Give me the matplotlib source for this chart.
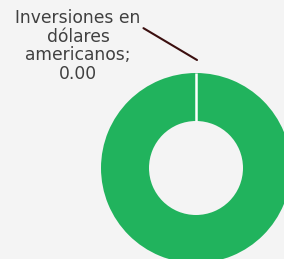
import numpy as np
import matplotlib.pyplot as plt

# data
labels = ['Inversiones en dólares americanos', 'Otros']
values = [0.00, 100.0]
colors = ['#21b35d', '#21b35d']

W, H = 284, 259
fig = plt.figure(figsize=(W / 100, H / 100), dpi=100)
fig.patch.set_facecolor('#f4f4f4')
ax = fig.add_axes([0, 0, 1, 1])
ax.set_facecolor('#f4f4f4')

# donut, drawn in pixel-like data coords
cx, cy, r, ring = 196, H - 168, 95, 48
wedges, _ = ax.pie(values, colors=colors, startangle=90, counterclock=False,
                   center=(cx, cy), radius=r, frame=True,
                   wedgeprops=dict(width=ring, linewidth=0))

# white separator where the zero slice sits
t = np.deg2rad(wedges[0].theta1)
ax.plot([cx + (r - ring) * np.cos(t), cx + r * np.cos(t)],
        [cy + (r - ring) * np.sin(t), cy + r * np.sin(t)],
        color='white', lw=1.8, solid_capstyle='butt')

ax.set_xlim(0, W)
ax.set_ylim(0, H)
ax.set_aspect('equal')
ax.axis('off')

# label with leader line
lbl = 'Inversiones en\ndólares\namericanos;\n{:.2f}'.format(values[0])
ax.annotate(lbl, xy=(cx + 1, cy + r + 13), xytext=(78, H - 46),
            ha='center', va='center', fontsize=12.3, color='#404040',
            family='DejaVu Sans', linespacing=1.07,
            arrowprops=dict(arrowstyle='-', color='#3b0f0f', lw=1.5,
                            shrinkA=0, shrinkB=0,
                            relpos=(1.0, 0.76)))

fig.savefig('out.png', dpi=100, facecolor=fig.get_facecolor())
